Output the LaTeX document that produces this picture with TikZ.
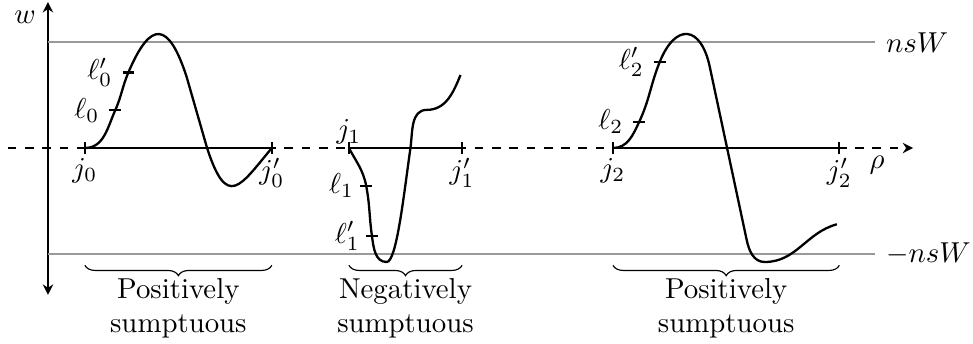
\documentclass[tikz,border=0pt]{standalone}
\usepackage{amsmath,amssymb}
\usepackage{xcolor}
\usepackage{tikz}
\usetikzlibrary{calc,arrows.meta,positioning,decorations.pathreplacing}
\definecolor{lvlc}{HTML}{999999}
\tikzset{
  ax/.style={thick},
  tip/.style={-{Stealth[length=3.6pt,width=3.6pt]}},
  lvl/.style={thick,lvlc},
  crv/.style={thick},
  tk/.style={thick},
  brc/.style={decorate,decoration={brace,mirror,amplitude=3.6pt}},
  lbl/.style={align=center,below=1pt}
}
\begin{document}
\begin{tikzpicture}
\useasboundingbox (-0.585,-2.378) rectangle (11.28,1.805);
% axes
\draw[ax,dashed,tip] (-0.49,0) -- (10.55,0) coordinate (xend);
\draw[ax,{Stealth[length=3.6pt,width=3.6pt]}-{Stealth[length=3.6pt,width=3.6pt]}] (0,-1.79) -- (0,1.78) coordinate (yend);
\node (w) at (-0.28,1.60) {$w$};
\node (rho) at (10.11,-0.21) {$\rho$};
\draw[lvl] (0,1.29) -- (10.09,1.29) node[right,black] (top) {$nsW$};
\draw[lvl] (0,-1.29) -- (10.09,-1.29) node[right,black] (bot) {$-nsW$};
% interval ends
\coordinate (j0) at (0.45,0);
\coordinate (j0p) at (2.73,0);
\coordinate (j1) at (3.67,0);
\coordinate (j1p) at (5.05,0);
\coordinate (j2) at (6.89,0);
\coordinate (j2p) at (9.65,0);
\draw[ax] (j0) -- (j0p);
\draw[ax] (j1) -- (j1p);
\draw[ax] (j2) -- (j2p);
% points on the curves
\coordinate (l0) at (0.82,0.46);
\coordinate (l0p) at (0.98,0.92);
\coordinate (l1) at (3.88,-0.46);
\coordinate (l1p) at (3.95,-1.07);
\coordinate (l2) at (7.21,0.32);
\coordinate (l2p) at (7.46,1.05);
% first piece
\draw[crv] (j0) to[out=0,in=-114] (l0) to[out=66,in=-113] (l0p)
  .. controls (1.255,1.569) and (1.472,1.540) .. (1.69,0.87)
  -- (1.94,0) .. controls (2.187,-0.761) and (2.344,-0.460) .. (j0p);
% second piece
\draw[crv] (j1) to[out=-62,in=101] (l1) to[out=-79,in=98] (l1p)
  to[out=-82,in=180] (4.13,-1.39)
  .. controls (4.25,-1.39) and (4.336,-0.594) .. (4.42,0)
  to[out=82,in=180] (4.62,0.465) to[out=0,in=-112] (5.03,0.89);
% third piece
\draw[crv] (j2) to[out=0,in=-115] (l2) to[out=65,in=-112] (l2p)
  .. controls (7.654,1.530) and (7.962,1.497) .. (8.07,0.99)
  -- (8.52,-1.12) to[out=-78,in=180] (8.74,-1.39)
  to[out=0,in=-165] (9.62,-0.93);
% ticks
\foreach \p in {j0,j0p,j1,j1p,j2,j2p}
  \draw[tk] ([yshift=-2pt]\p) -- ([yshift=2pt]\p);
\foreach \p in {l0,l0p,l1,l1p,l2,l2p}
  \draw[tk] ([xshift=-2pt]\p) -- ([xshift=2pt]\p);
% labels
\node[below] (tj0) at (j0) {$j_0$};
\node[below] (tj0p) at (j0p) {$j_0'$};
\node[above,inner sep=1pt] (tj1) at (j1) {$j_1$};
\node[below] (tj1p) at (j1p) {$j_1'$};
\node[below] (tj2) at (j2) {$j_2$};
\node[below] (tj2p) at (j2p) {$j_2'$};
\node[left] (tl0) at ([xshift=-2pt]l0) {$\ell_0$};
\node[left] (tl0p) at ([xshift=-2pt]l0p) {$\ell_0'$};
\node[left,inner sep=2pt] (tl1) at ([xshift=-2pt]l1) {$\ell_1$};
\node[left,inner sep=2pt] (tl1p) at ([xshift=-2pt]l1p) {$\ell_1'$};
\node[left] (tl2) at ([xshift=-2pt]l2) {$\ell_2$};
\node[left] (tl2p) at ([xshift=-2pt]l2p) {$\ell_2'$};
% braces
\coordinate (bl) at (0,-1.43);
\draw[brc] (j0 |- bl) -- (j0p |- bl) node[midway,lbl] (pos0) {Positively\\sumptuous};
\draw[brc] (j1 |- bl) -- (j1p |- bl) node[midway,lbl] (neg1) {Negatively\\sumptuous};
\draw[brc] (j2 |- bl) -- (j2p |- bl) node[midway,lbl] (pos2) {Positively\\sumptuous};
\end{tikzpicture}
\end{document}
